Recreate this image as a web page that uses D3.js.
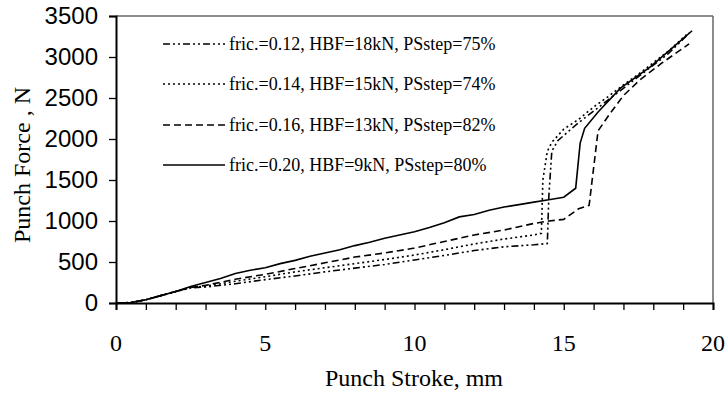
<!DOCTYPE html>
<html><head><meta charset="utf-8">
<script src="https://cdn.jsdelivr.net/npm/d3@7"></script>
<style>
html,body{margin:0;padding:0;background:#fff;}
svg{display:block;font-family:"Liberation Serif","Times New Roman",serif;}
</style></head>
<body><svg id="c" width="728" height="405"></svg>
<script>
// ---- data ----
const legendLabels = [
  "fric.=0.12, HBF=18kN, PSstep=75%",
  "fric.=0.14, HBF=15kN, PSstep=74%",
  "fric.=0.16, HBF=13kN, PSstep=82%",
  "fric.=0.20, HBF=9kN, PSstep=80%"
];
const xTicks = [0, 5, 10, 15, 20];
const yTicks = [0, 500, 1000, 1500, 2000, 2500, 3000, 3500];

// fric 0.12 (dash-dot-dot)
const s012x = [0, 0.5, 1, 1.5, 2, 2.5, 3, 4, 5, 6, 7, 8, 9, 10, 11, 12, 13, 14, 14.45, 14.5, 14.6, 14.8, 15.5, 16.5, 17.5, 18.5, 19.2];
const s012y = [0, 5, 40, 90, 140, 185, 195, 235, 285, 330, 380, 425, 470, 525, 580, 640, 685, 710, 725, 1300, 1850, 1980, 2200, 2480, 2760, 3040, 3290];
// fric 0.14 (dotted)
const s014x = [0, 0.5, 1, 1.5, 2, 2.5, 3, 4, 5, 6, 7, 8, 9, 10, 11, 12, 13, 14, 14.25, 14.3, 14.45, 14.6, 15, 15.5, 16, 16.5, 17, 17.5, 18, 18.5, 19.2];
const s014y = [0, 5, 40, 90, 140, 190, 205, 265, 320, 380, 430, 480, 530, 585, 650, 720, 780, 830, 850, 1500, 1850, 1960, 2120, 2240, 2390, 2520, 2660, 2790, 2930, 3070, 3300];
// fric 0.16 (dashed)
const s016x = [0, 0.5, 1, 1.5, 2, 2.5, 3, 4, 5, 6, 7, 8, 9, 10, 11, 12, 13, 14, 14.5, 15, 15.5, 15.85, 16.15, 16.55, 17, 17.55, 18.3, 19.2];
const s016y = [0, 5, 40, 90, 140, 190, 215, 290, 350, 420, 490, 560, 610, 670, 750, 830, 890, 970, 1000, 1020, 1150, 1190, 2100, 2310, 2530, 2720, 2930, 3160];
// fric 0.20 (solid)
const s020x = [0, 0.5, 1, 1.5, 2, 2.5, 3, 3.5, 4, 4.5, 5, 5.5, 6, 6.5, 7, 7.5, 8, 8.5, 9, 9.5, 10, 10.5, 11, 11.5, 12, 12.5, 13, 13.5, 14, 14.5, 15, 15.4, 15.55, 15.7, 16.15, 16.9, 17.9, 18.6, 19.3];
const s020y = [0, 5, 40, 90, 140, 200, 250, 300, 360, 400, 430, 480, 520, 570, 610, 650, 700, 740, 790, 830, 870, 920, 980, 1050, 1080, 1130, 1170, 1200, 1230, 1260, 1290, 1400, 1950, 2130, 2330, 2620, 2880, 3100, 3320];

const seriesX = [s012x, s014x, s016x, s020x];
const seriesY = [s012y, s014y, s016y, s020y];
const dashes = ["7,3,2,3,2,3", "2,3", "7,4", null];

// ---- drawing ----
const svg = d3.select("#c");
const x = d3.scaleLinear().domain([0, 20]).range([116, 713]);
const y = d3.scaleLinear().domain([0, 3500]).range([303, 16]);

// frame top/right
svg.append("line").attr("x1", 116).attr("x2", 713).attr("y1", 16).attr("y2", 16)
  .attr("stroke", "#666").attr("stroke-width", 1.5);
svg.append("line").attr("x1", 713).attr("x2", 713).attr("y1", 16).attr("y2", 303)
  .attr("stroke", "#666").attr("stroke-width", 1.5);

// x axis
const gx = svg.append("g").attr("transform", "translate(0,303)");
gx.call(d3.axisBottom(x).tickValues(d3.range(0, 21, 1)).tickSize(7).tickFormat(""));
gx.select(".domain").attr("stroke-width", 2);
gx.selectAll(".tick line").attr("stroke-width", 1.3);
svg.selectAll(".xlbl").data(xTicks).enter().append("text").attr("class", "xlbl")
  .attr("x", d => x(d)).attr("y", 351).attr("text-anchor", "middle")
  .attr("font-size", 24).attr("fill", "#000").text(d => d);

// y axis
const gy = svg.append("g").attr("transform", "translate(116,0)");
gy.call(d3.axisLeft(y).tickValues(yTicks).tickSize(7).tickFormat(""));
gy.select(".domain").attr("stroke-width", 2);
gy.selectAll(".tick line").attr("stroke-width", 1.3);
gy.selectAll(".lbl").data(yTicks).enter().append("text")
  .attr("x", -18).attr("y", d => y(d) + 8).attr("text-anchor", "end")
  .attr("font-size", 24).attr("fill", "#000").text(d => d);
svg.selectAll(".domain").attr("stroke", "#000");

// axis titles
svg.append("text").attr("x", 414).attr("y", 386).attr("text-anchor", "middle")
  .attr("font-size", 24).text("Punch Stroke, mm");
svg.append("text").attr("transform", "translate(30,165) rotate(-90)")
  .attr("text-anchor", "middle").attr("font-size", 24).text("Punch Force , N");

// series
const line = d3.line().x(d => x(d[0])).y(d => y(d[1]));
seriesX.forEach((xs, i) => {
  const pts = xs.map((v, j) => [v, seriesY[i][j]]);
  svg.append("path").datum(pts).attr("d", line)
    .attr("fill", "none").attr("stroke", "#000").attr("stroke-width", 1.6)
    .attr("stroke-dasharray", dashes[i]);
});

// legend
const rowY = [44, 84, 125, 165];
legendLabels.forEach((t, i) => {
  svg.append("line").attr("x1", 163).attr("x2", 225).attr("y1", rowY[i]).attr("y2", rowY[i])
    .attr("stroke", "#000").attr("stroke-width", 1.6).attr("stroke-dasharray", dashes[i]);
  svg.append("text").attr("x", 229).attr("y", rowY[i] + 6).attr("font-size", 18).text(t);
});
</script></body></html>
